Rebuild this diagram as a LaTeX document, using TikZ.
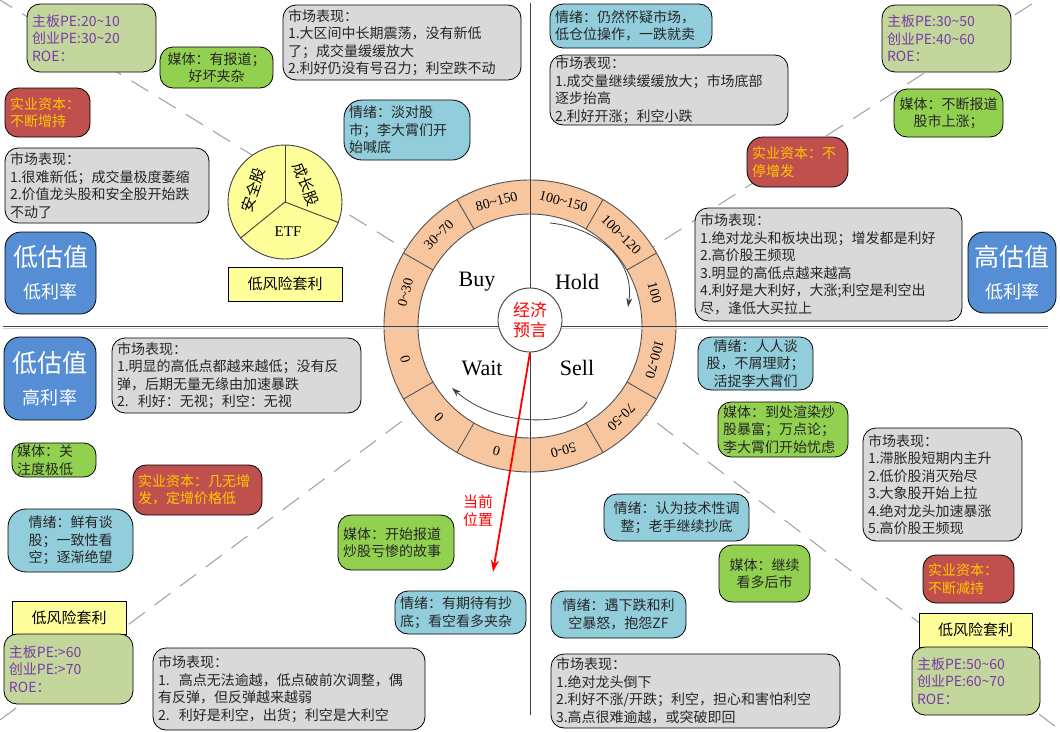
\documentclass[tikz,border=0pt]{standalone}
\usepackage{fontspec}
\setmainfont{Noto Sans CJK SC}
\newfontfamily\latserif{Liberation Serif}
\usetikzlibrary{arrows.meta}
\definecolor{boxgray}{RGB}{217,217,217}
\definecolor{emoblue}{RGB}{146,205,220}
\definecolor{medgreen}{RGB}{146,208,80}
\definecolor{capred}{RGB}{192,80,77}
\definecolor{capyellow}{RGB}{255,200,0}
\definecolor{pegreen}{RGB}{195,214,155}
\definecolor{pepurple}{RGB}{120,60,170}
\definecolor{bigblue}{RGB}{85,142,213}
\definecolor{lightyel}{RGB}{255,255,153}
\definecolor{ringfill}{RGB}{248,198,158}
\definecolor{linegray}{RGB}{64,64,64}
\tikzset{
 rbox/.style={draw=black, line width=0.8pt, rounded corners=13pt, inner xsep=4pt, inner ysep=1pt,
   font=\fontsize{14}{17.5}\selectfont, align=left},
 graybox/.style={rbox, fill=boxgray, text=black!85},
 emobox/.style={rbox, fill=emoblue, text=black!85},
 medbox/.style={rbox, fill=medgreen, text=black!85},
 capbox/.style={rbox, fill=capred, text=capyellow},
 pebox/.style={rbox, fill=pegreen, text=pepurple},
 bigbox/.style={rbox, fill=bigblue, text=white, align=center, rounded corners=16pt},
 yelbox/.style={draw=black, line width=0.8pt, fill=lightyel, inner sep=1pt,
   font=\fontsize{15}{18}\selectfont, align=center},
 diag/.style={draw=gray!75, line width=1pt, dash pattern=on 20pt off 12pt},
 axisline/.style={draw=linegray, line width=1pt},
 ringline/.style={draw=linegray!90, line width=0.9pt},
 ringlab/.style={font=\latserif\fontsize{14}{16}\selectfont, inner sep=0pt},
 quadlab/.style={font=\latserif\fontsize{22}{24}\selectfont},
 turn/.style={draw=linegray, line width=0.8pt, -{Stealth[length=9pt,width=6pt]}},
 redarrow/.style={draw=red, line width=1.8pt, -{Stealth[length=12pt,width=8pt]}},
}
\newcommand\mybox[7]{%
 \pgfmathsetmacro\bxw{#5-#3}\pgfmathsetmacro\bxh{#6-#4}%
 \pgfmathsetmacro\bxtw{#5-#3-10}%
 \node[#2,minimum width=\bxw pt,minimum height=\bxh pt,text width=\bxtw pt] (#1)
   at ({(#3+#5)/2},{(#4+#6)/2}) {#7};}
\newcommand\bigtxt[2]{{\fontsize{25}{28}\selectfont #1}\\[14pt]{\fontsize{18}{22}\selectfont #2}}
\begin{document}
\begin{tikzpicture}[x=1pt,y=-1pt]
\useasboundingbox (0,0) rectangle (1060,731);
\fill[white] (0,0) rectangle (1060,731);
% centre and diagonal ends
\coordinate (c) at (530,326);
\coordinate (dTL) at (0,0);
\coordinate (dTR) at (1038,0);
\coordinate (dBL) at (0,720);
\coordinate (dBR) at (1056,727);
\draw[diag] (c) -- (dTL);
\draw[diag] (c) -- (dTR);
\draw[diag] (c) -- (dBL);
\draw[diag] (c) -- (dBR);
% wheel
\fill[ringfill] (c) circle (146);
\fill[white] (c) circle (112);
\draw[ringline] (c) circle (146);
\draw[ringline] (c) circle (112);
\foreach \a in {30,60,120,150,210,240,300,330}
  \draw[ringline] ({530+112*cos(\a)},{326-112*sin(\a)}) -- ({530+146*cos(\a)},{326-146*sin(\a)});
% axes
\coordinate (hL) at (3,326); \coordinate (hR) at (1048,326);
\coordinate (vT) at (530,3); \coordinate (vB) at (530,715);
\draw[gray!35, line width=1pt] (3,328.3) -- (1048,328.3);
\draw[axisline] (hL) -- (hR);
\draw[axisline] (vT) -- (vB);
% ring labels
\foreach \a/\t [count=\i, evaluate=\a as \r using \a-90] in
  {75/100\textasciitilde150, 45/100\textasciitilde120, 15/100, -15/100-70, -45/70-50, -75/50-0,
   -105/0, -135/0, -165/0, 165/0\textasciitilde30, 135/30\textasciitilde70, 105/80\textasciitilde150}
  \node[ringlab, rotate=\r] (rl\i) at ({530+129*cos(\a)},{326-129*sin(\a)}) {\t};
% quadrant labels
\node[quadlab] (buy) at (477,282) {Buy};
\node[quadlab] (hold) at (577,282) {Hold};
\node[quadlab] (wait) at (482,368) {Wait};
\node[quadlab] (sell) at (577,368) {Sell};
% turning arrows
\coordinate (t1s) at (550,223); \coordinate (t1e) at (628,307);
\draw[turn] (t1s) .. controls (600,228) and (635,262) .. (t1e);
\coordinate (t2s) at (587,402); \coordinate (t2e) at (452,388);
\draw[turn] (t2s) .. controls (575,425) and (500,430) .. (t2e);
% centre circle
\node[circle, draw=linegray, line width=0.9pt, fill=white, minimum size=64pt, inner sep=0pt,
  text=red, font=\fontsize{17}{20}\selectfont, align=center] (core) at (530,320) {经济\\预言};
\coordinate (cur) at (493,572);
\draw[redarrow] (core.south) -- (cur);
\node[text=red, font=\fontsize{15}{18}\selectfont, align=center] (curlab) at (478,511) {当前\\位置};
% pie
\node[circle, draw=linegray, line width=0.9pt, fill=lightyel, minimum size=114pt, inner sep=0pt] (pie) at (285,202) {};
\draw[linegray, line width=0.9pt] (pie.center) -- (pie.90);
\draw[linegray, line width=0.9pt] (pie.center) -- (pie.-21);
\draw[linegray, line width=0.9pt] (pie.center) -- (pie.219);
\node[rotate=71, font=\fontsize{15}{18}\selectfont] (pieA) at (253,190) {安全股};
\node[rotate=-69, font=\fontsize{15}{18}\selectfont] (pieB) at (306,184) {成长股};
\node[font=\latserif\fontsize{15}{18}\selectfont] (pieC) at (288,232) {ETF};
% ---- top-left quadrant
\mybox{pe1}{pebox}{27}{4}{156}{72}{主板PE:20\textasciitilde10\\创业PE:30\textasciitilde20\\ROE：}
\mybox{med1}{medbox, align=center}{160}{47}{273}{88}{媒体：有报道；\\好坏夹杂}
\mybox{cap1}{capbox}{5}{88}{90}{137}{实业资本：\\不断增持}
\mybox{mkt1}{graybox}{5}{148}{209}{223}{市场表现：\\1.很难新低；成交量极度萎缩\\2.价值龙头股和安全股开始跌\\不动了}
\mybox{big1}{bigbox}{5}{232}{96}{314}{\bigtxt{低估值}{低利率}}
\mybox{ylw1}{yelbox}{228}{267}{342}{301}{低风险套利}
\mybox{mkt2}{graybox}{283}{5}{521}{80}{市场表现：\\1.大区间中长期震荡，没有新低\\了；成交量缓缓放大\\2.利好仍没有号召力；利空跌不动}
\mybox{emo1}{emobox, rounded corners=18pt}{344}{100}{470}{160}{情绪：淡对股\\市；李大霄们开\\始喊底}
% ---- top-right quadrant
\mybox{emo2}{emobox}{550}{4}{712}{48}{情绪：仍然怀疑市场，\\低仓位操作，一跌就卖}
\mybox{mkt3}{graybox}{550}{55}{788}{125}{市场表现：\\1.成交量继续缓缓放大；市场底部\\逐步抬高\\2.利好开涨；利空小跌}
\mybox{cap2}{capbox, rounded corners=16pt}{747}{137}{848}{187}{实业资本：不\\停增发}
\mybox{pe2}{pebox}{882}{5}{1011}{72}{主板PE:30\textasciitilde50\\创业PE:40\textasciitilde60\\ROE：}
\mybox{med2}{medbox, align=center}{894}{89}{1003}{137}{媒体：不断报道\\股市上涨；}
\mybox{mkt4}{graybox}{695}{208}{962}{321}{市场表现：\\1.绝对龙头和板块出现；增发都是利好\\2.高价股王频现\\3.明显的高低点越来越高\\4.利好是大利好，大涨;利空是利空出\\尽，逢低大买拉上}
\mybox{big2}{bigbox}{968}{232}{1056}{313}{\bigtxt{高估值}{低利率}}
% ---- bottom-left quadrant
\mybox{big3}{bigbox}{4}{337}{96}{420}{\bigtxt{低估值}{高利率}}
\mybox{mkt5}{graybox}{112}{338}{361}{413}{市场表现：\\1.明显的高低点都越来越低；没有反\\弹，后期无量无缘由加速暴跌\\2.\ \ 利好：无视；利空：无视}
\mybox{med3}{medbox, rounded corners=12pt, inner ysep=0pt}{12}{443}{96}{477}{媒体：关\\注度极低}
\mybox{cap3}{capbox}{133}{465}{262}{515}{实业资本：几无增\\发，定增价格低}
\mybox{emo3}{emobox, align=center, rounded corners=18pt}{8}{509}{133}{572}{情绪：鲜有谈\\股；一致性看\\空；逐渐绝望}
\mybox{ylw2}{yelbox}{12}{601}{126}{634}{低风险套利}
\mybox{pe3}{pebox}{4}{634}{133}{704}{主板PE:>60\\创业PE:>70\\ROE：}
\mybox{mkt6}{graybox}{153}{648}{425}{730}{市场表现：\\1.\ \ 高点无法逾越，低点破前次调整，偶\\有反弹，但反弹越来越弱\\2.\ \ 利好是利空，出货；利空是大利空}
\mybox{med4}{medbox}{338}{515}{454}{570}{媒体：开始报道\\炒股亏惨的故事}
\mybox{emo4}{emobox}{395}{591}{526}{634}{情绪：有期待有抄\\底；看空看多夹杂}
% ---- bottom-right quadrant
\mybox{emo5}{emobox, align=center}{698}{337}{813}{390}{情绪：人人谈\\股，不屑理财；\\活捉李大霄们}
\mybox{med5}{medbox, inner ysep=0pt}{718}{402}{848}{457}{媒体：到处渲染炒\\股暴富；万点论；\\李大霄们开始忧虑}
\mybox{mkt7}{graybox}{863}{428}{1022}{541}{市场表现：\\1.滞胀股短期内主升\\2.低价股消灭殆尽\\3.大象股开始上拉\\4.绝对龙头加速暴涨\\5.高价股王频现}
\mybox{cap4}{capbox}{923}{555}{1014}{603}{实业资本：\\不断减持}
\mybox{ylw3}{yelbox}{919}{613}{1032}{647}{低风险套利}
\mybox{pe4}{pebox}{912}{647}{1040}{715}{主板PE:50\textasciitilde60\\创业PE:60\textasciitilde70\\ROE：}
\mybox{emo6}{emobox, align=center}{604}{494}{749}{541}{情绪：认为技术性调\\整；老手继续抄底}
\mybox{med6}{medbox, align=center}{719}{545}{810}{602}{媒体：继续\\看多后市}
\mybox{emo7}{emobox, align=center}{551}{591}{686}{638}{情绪：遇下跌和利\\空暴怒，抱怨ZF}
\mybox{mkt8}{graybox}{551}{654}{840}{728}{市场表现：\\1.绝对龙头倒下\\2.利好不涨/开跌；利空，担心和害怕利空\\3.高点很难逾越，或突破即回}
\end{tikzpicture}
\end{document}
